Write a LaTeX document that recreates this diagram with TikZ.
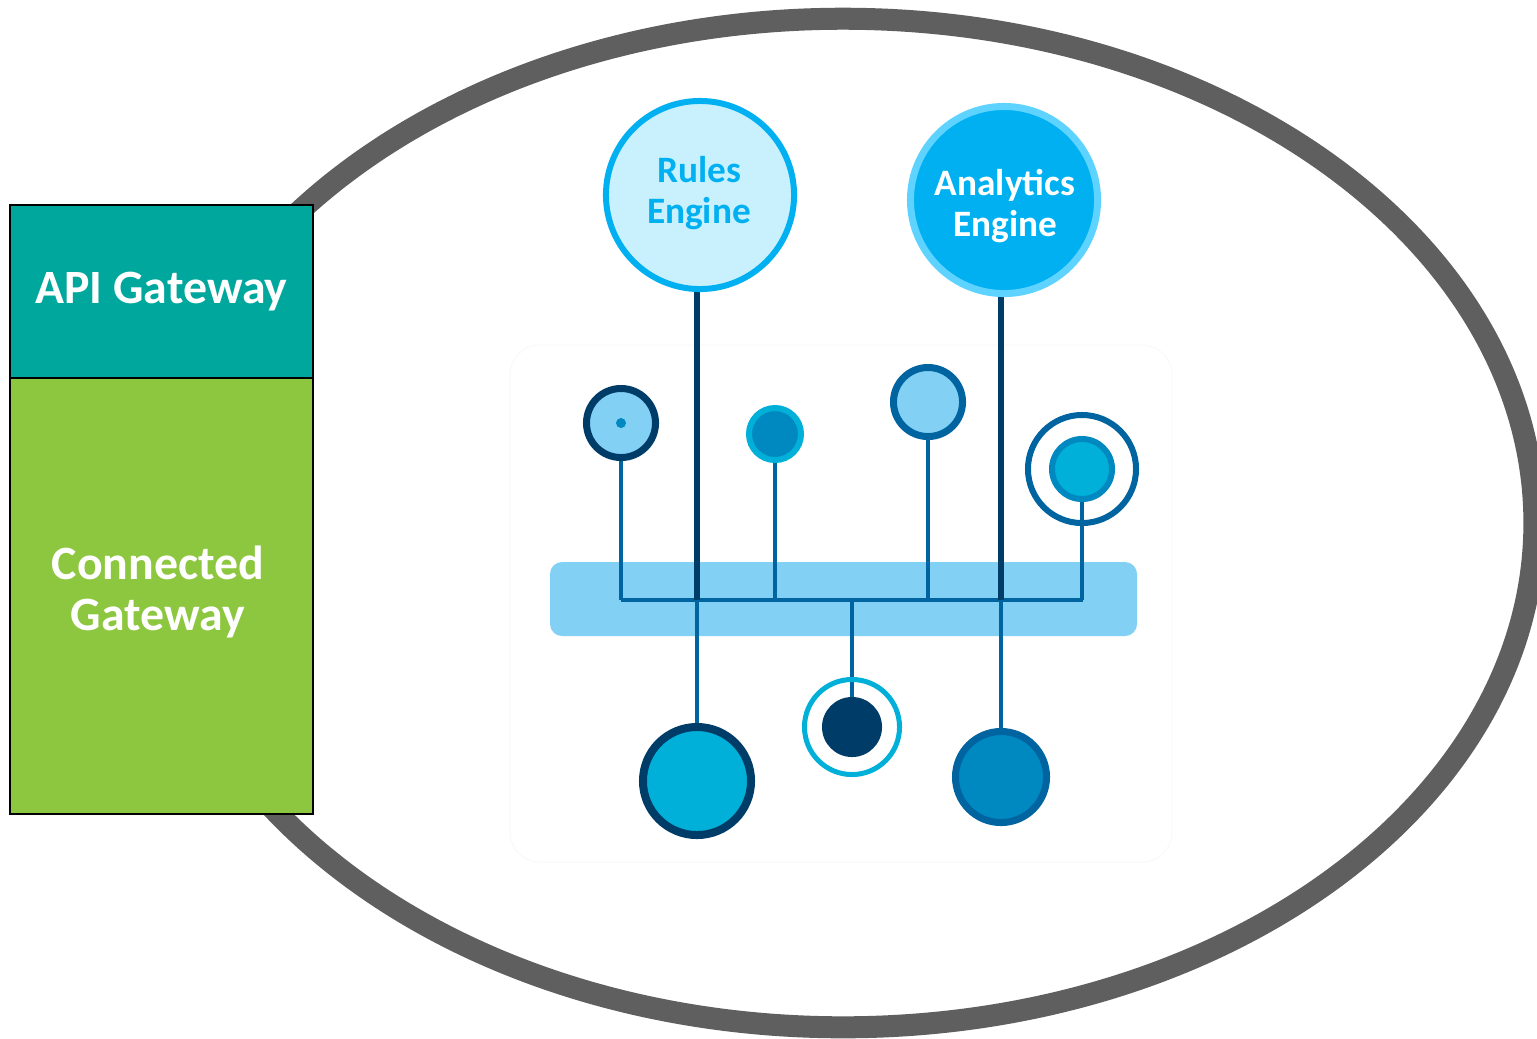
\documentclass[tikz,border=0pt]{standalone}
\usepackage{fontspec}
\setmainfont{Carlito}
\definecolor{navy}{HTML}{003C68}
\definecolor{midblue}{HTML}{0064A0}
\definecolor{blueb}{HTML}{0088C0}
\definecolor{cyanb}{HTML}{00B0D8}
\definecolor{sky}{HTML}{83D0F5}
\definecolor{engblue}{HTML}{00B0F0}
\definecolor{englight}{HTML}{C9F0FD}
\definecolor{engring}{HTML}{5FD3FF}
\definecolor{tealbox}{HTML}{00A79D}
\definecolor{greenbox}{HTML}{8DC63F}
\definecolor{ringgrey}{HTML}{5F5F5F}
\pgfdeclarelayer{back}
\pgfdeclarelayer{wires}
\pgfsetlayers{back,wires,main}
\tikzset{
  dot/.style={circle, inner sep=0pt, outer sep=0pt},
  gbox/.style={draw=black, line width=0.02cm, inner sep=0pt, text=white, align=center,
    font=\bfseries\fontsize{13.6}{14.6}\selectfont},
  engtext/.style={align=center, font=\bfseries\fontsize{10.6}{11.8}\selectfont},
  busline/.style={draw=midblue, line width=0.045cm},
  navyline/.style={draw=navy, line width=0.055cm},
}
\begin{document}
\begin{tikzpicture}[x=0.01cm, y=-0.01cm]
\clip (0,0) rectangle (1537,1038);
\begin{pgfonlayer}{back}
\fill[white] (0,0) rectangle (1537,1038);
% big ellipse
\draw[ringgrey, fill=white, line width=0.22cm] (843,523) ellipse [x radius=6.91cm, y radius=5.04cm];
% faint icon background
\draw[black!2.5, line width=0.01cm, rounded corners=0.3cm] (510,345) rectangle (1172,862);
% blue bar
\fill[sky, rounded corners=0.12cm] (550,562) rectangle (1137,636);
\end{pgfonlayer}
% bus coordinates
\coordinate (busL) at (621,600);
\coordinate (busR) at (1083,600);
\coordinate (busM) at (852,600);
% engines
\node[dot, draw=engblue, fill=englight, line width=0.06cm, minimum size=1.88cm] (rules) at (700,195) {};
\node[engtext, text=engblue] (rulest) at (699,193) {Rules\\Engine};
\node[dot, draw=engring, fill=engblue, line width=0.07cm, minimum size=1.87cm] (analytics) at (1004,200) {};
\node[engtext, text=white] (analyticst) at (1005,206) {Analytics\\Engine};
% top small circles
\node[dot, draw=navy, fill=sky, line width=0.07cm, minimum size=0.69cm] (c1) at (621,423) {};
\node[dot, fill=blueb, minimum size=0.10cm] (c1d) at (621,423) {};
\node[dot, draw=cyanb, fill=blueb, line width=0.06cm, minimum size=0.52cm] (c2) at (775,434) {};
\node[dot, draw=midblue, fill=sky, line width=0.07cm, minimum size=0.69cm] (c3) at (928,402) {};
\node[dot, draw=midblue, line width=0.06cm, minimum size=1.08cm] (c4o) at (1082,469) {};
\node[dot, draw=blueb, fill=cyanb, line width=0.06cm, minimum size=0.60cm] (c4i) at (1082,469) {};
% bottom circles
\node[dot, draw=navy, fill=cyanb, line width=0.08cm, minimum size=1.08cm] (b1) at (697,781) {};
\node[dot, draw=cyanb, line width=0.05cm, minimum size=0.95cm] (b2o) at (852,727) {};
\node[dot, fill=navy, minimum size=0.60cm] (b2i) at (852,727) {};
\node[dot, draw=midblue, fill=blueb, line width=0.07cm, minimum size=0.91cm] (b3) at (1001,777) {};
% connectors (under the circles)
\begin{pgfonlayer}{wires}
\path[busline] (busL) -- (busR);
\path[busline] (c1.south) -- (c1.south |- busL);
\path[busline] (c2.south) -- (c2.south |- busL);
\path[busline] (c3.south) -- (c3.south |- busL);
\path[busline] (c4i.south) -- (c4i.south |- busR);
\path[busline] (busM) -- (b2i.north);
\path[busline] (b1.north |- busL) -- (b1.north);
\path[busline] (b3.north |- busL) -- (b3.north);
\path[navyline] (rules.south -| b1.north) -- (b1.north |- busL);
\path[navyline] (analytics.south -| b3.north) -- (b3.north |- busL);
\end{pgfonlayer}
% gateway boxes
\node[gbox, fill=tealbox, minimum width=3.03cm, minimum height=1.73cm] (api) at (161.5,291.5) {API Gateway};
\node[gbox, fill=greenbox, minimum width=3.03cm, minimum height=4.36cm] (cgw) at (161.5,596) {};
\node[gbox, draw=none] (cgwt) at (158,592) {Connected\\Gateway};
\end{tikzpicture}
\end{document}
